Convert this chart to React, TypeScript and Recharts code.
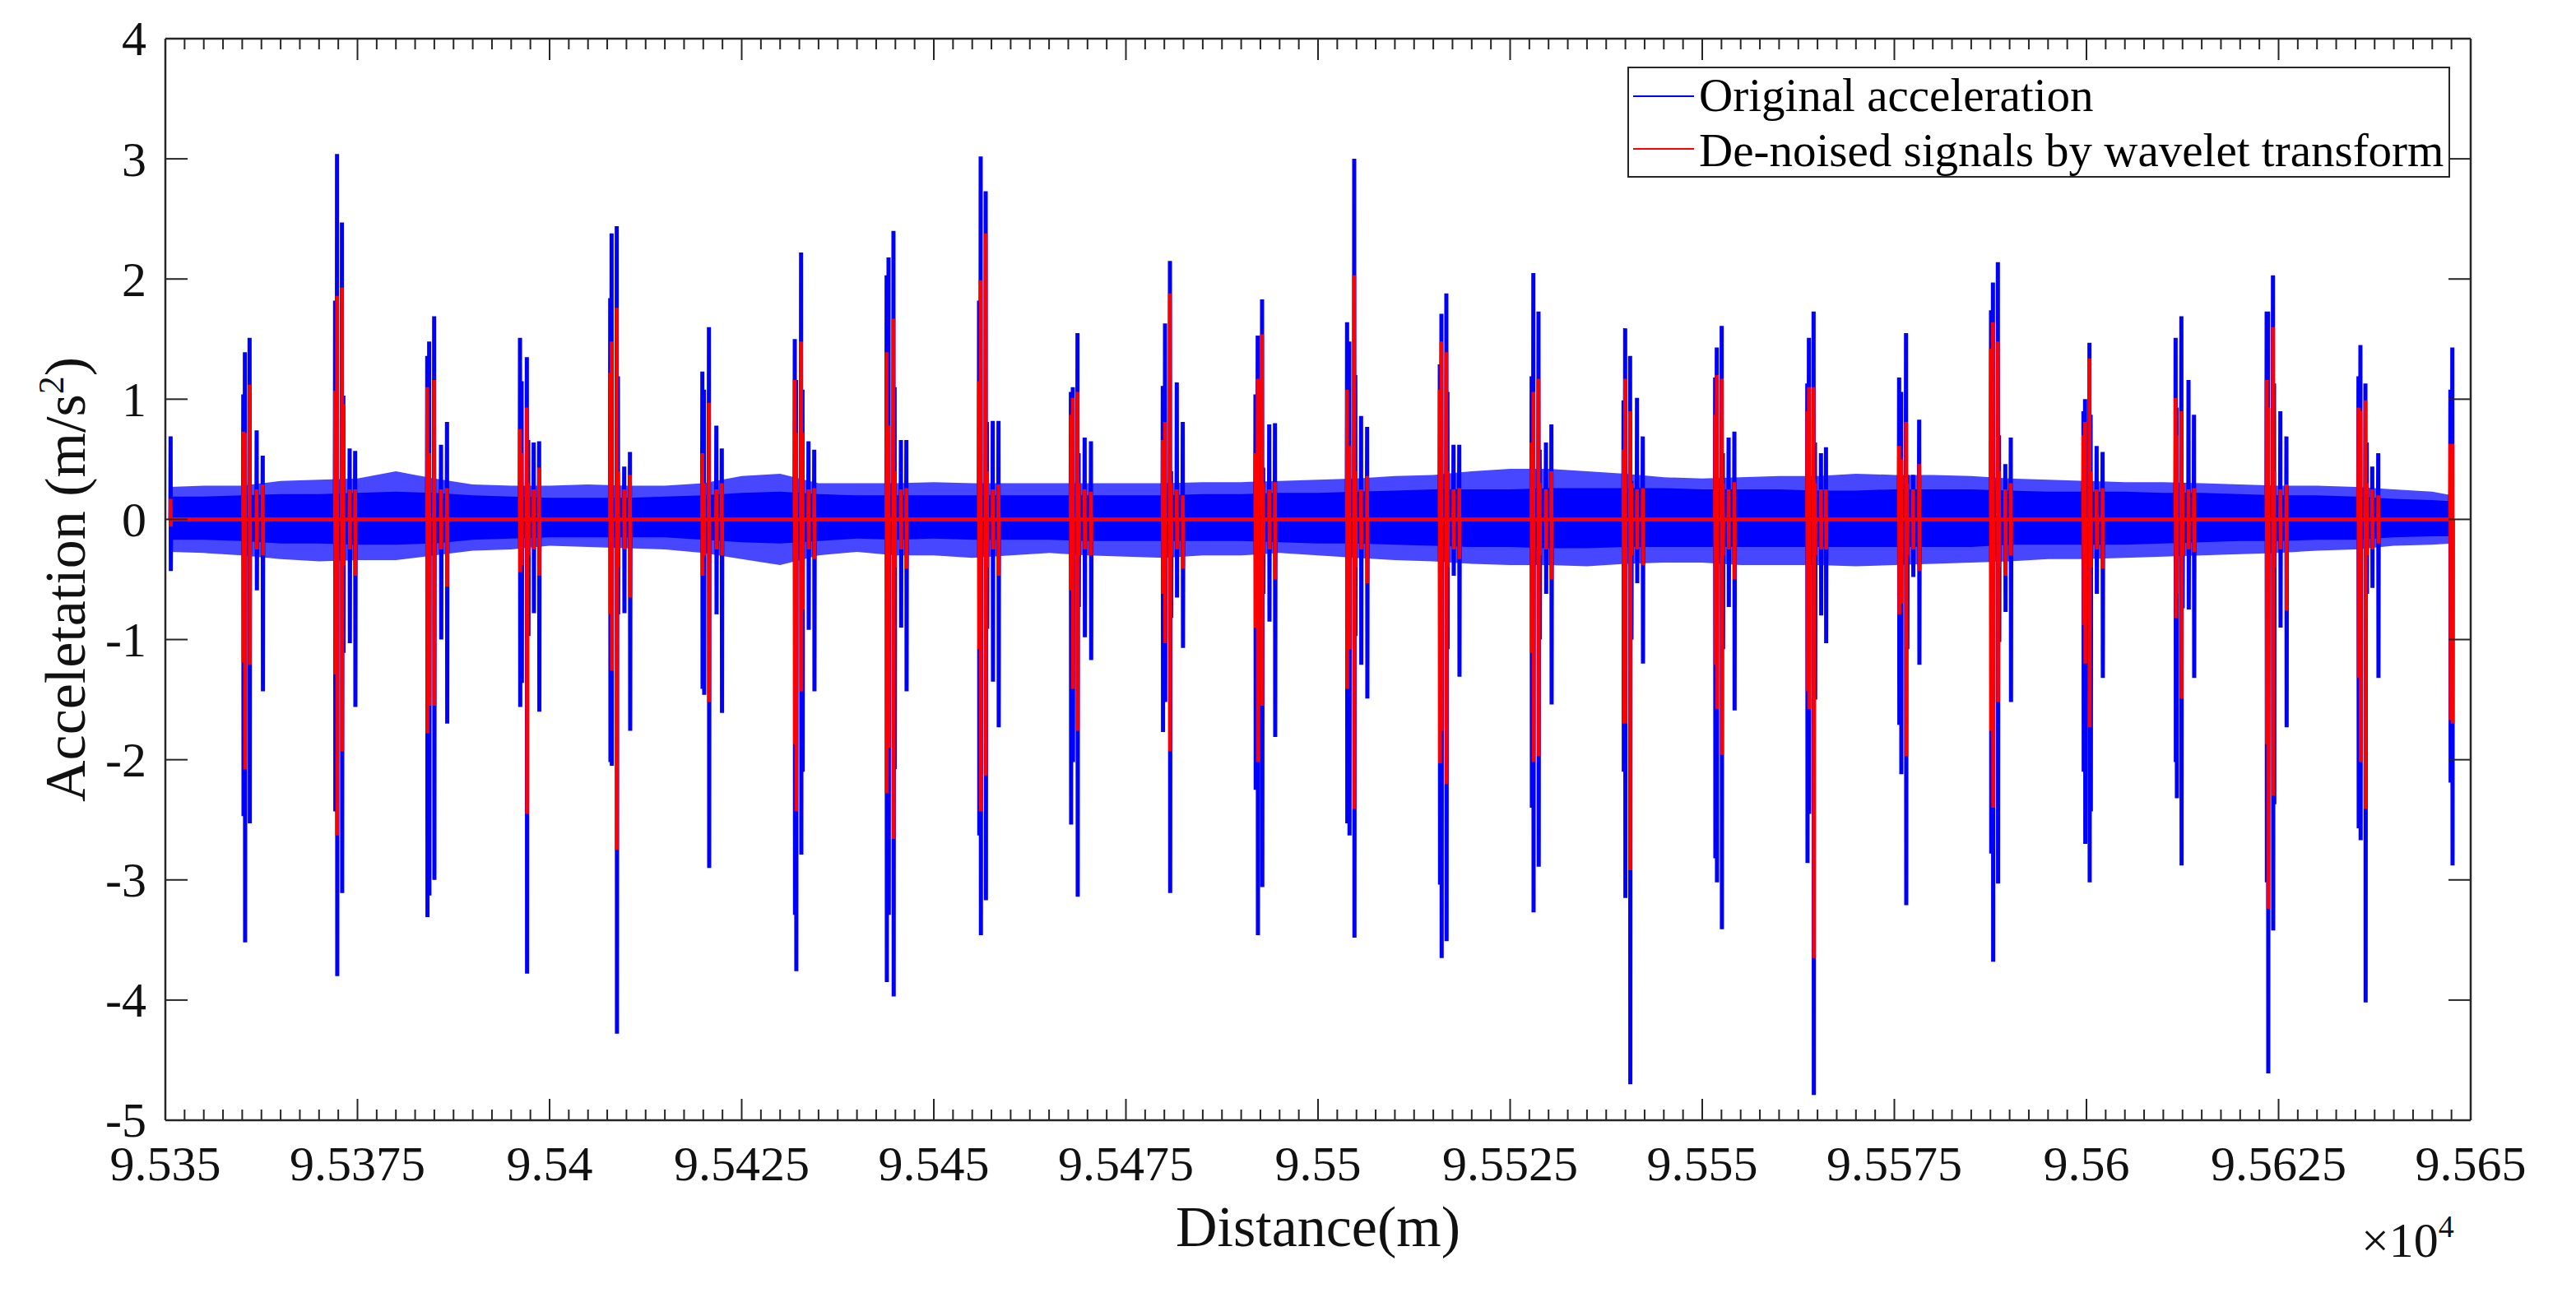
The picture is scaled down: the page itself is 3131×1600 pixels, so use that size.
import React from 'react';
import { ComposedChart, Line, Area, XAxis, YAxis, ReferenceLine, Legend } from 'recharts';

// ---------- data ----------
// x tick values (m) and their labels (×10^4)
const xMajorTicks = [95350, 95375, 95400, 95425, 95450, 95475, 95500, 95525, 95550, 95575, 95600, 95625, 95650];
const xTickLabels = ['9.535', '9.5375', '9.54', '9.5425', '9.545', '9.5475', '9.55', '9.5525', '9.555', '9.5575', '9.56', '9.5625', '9.565'];
const xMinorStep = 2.5;
const yTicks = [-5, -4, -3, -2, -1, 0, 1, 2, 3, 4];
const yTickLabels = ['-5', '-4', '-3', '-2', '-1', '0', '1', '2', '3', '4'];

// noise band of the original acceleration (envelope)
const bandX = [95350.6, 95355, 95360, 95365, 95370, 95375, 95380, 95385, 95390, 95395, 95400, 95405, 95410, 95415, 95420, 95425, 95430, 95435, 95440, 95445, 95450, 95455, 95460, 95465, 95470, 95475, 95480, 95485, 95490, 95495, 95500, 95505, 95510, 95515, 95520, 95525, 95530, 95535, 95540, 95545, 95550, 95555, 95560, 95565, 95570, 95575, 95580, 95585, 95590, 95595, 95600, 95605, 95610, 95615, 95620, 95625, 95630, 95635, 95640, 95645, 95647.6];
const coreHi = [0.19, 0.19, 0.2, 0.21, 0.21, 0.22, 0.23, 0.22, 0.2, 0.19, 0.18, 0.18, 0.18, 0.19, 0.2, 0.22, 0.23, 0.21, 0.2, 0.2, 0.2, 0.2, 0.2, 0.2, 0.2, 0.2, 0.2, 0.21, 0.21, 0.22, 0.22, 0.23, 0.24, 0.25, 0.25, 0.25, 0.26, 0.26, 0.26, 0.26, 0.25, 0.25, 0.25, 0.24, 0.24, 0.25, 0.25, 0.25, 0.24, 0.23, 0.23, 0.23, 0.22, 0.22, 0.21, 0.2, 0.2, 0.19, 0.17, 0.16, 0.15];
const coreLo = [-0.17, -0.17, -0.18, -0.2, -0.2, -0.21, -0.21, -0.2, -0.17, -0.16, -0.15, -0.15, -0.15, -0.15, -0.17, -0.19, -0.2, -0.18, -0.16, -0.17, -0.16, -0.17, -0.17, -0.17, -0.18, -0.18, -0.18, -0.18, -0.18, -0.19, -0.2, -0.2, -0.21, -0.22, -0.23, -0.23, -0.24, -0.24, -0.23, -0.23, -0.23, -0.23, -0.23, -0.23, -0.23, -0.23, -0.23, -0.23, -0.21, -0.21, -0.21, -0.21, -0.2, -0.19, -0.18, -0.18, -0.17, -0.17, -0.15, -0.14, -0.14];
const fringeHi = [0.27, 0.28, 0.28, 0.32, 0.33, 0.34, 0.4, 0.34, 0.29, 0.28, 0.28, 0.29, 0.28, 0.28, 0.3, 0.36, 0.38, 0.3, 0.3, 0.3, 0.31, 0.3, 0.3, 0.3, 0.3, 0.3, 0.3, 0.31, 0.31, 0.32, 0.33, 0.34, 0.36, 0.37, 0.4, 0.42, 0.42, 0.4, 0.38, 0.35, 0.34, 0.35, 0.36, 0.36, 0.38, 0.37, 0.37, 0.36, 0.34, 0.33, 0.32, 0.31, 0.31, 0.3, 0.29, 0.28, 0.28, 0.27, 0.25, 0.23, 0.2];
const fringeLo = [-0.27, -0.28, -0.3, -0.33, -0.35, -0.34, -0.34, -0.3, -0.26, -0.25, -0.22, -0.23, -0.24, -0.25, -0.28, -0.33, -0.38, -0.3, -0.27, -0.3, -0.3, -0.32, -0.3, -0.28, -0.3, -0.31, -0.32, -0.3, -0.3, -0.28, -0.3, -0.32, -0.34, -0.35, -0.37, -0.38, -0.38, -0.39, -0.37, -0.36, -0.36, -0.38, -0.38, -0.38, -0.39, -0.38, -0.37, -0.36, -0.35, -0.33, -0.33, -0.32, -0.31, -0.3, -0.29, -0.28, -0.26, -0.25, -0.22, -0.21, -0.2];

// impulses: position (m), original max/min, de-noised max/min (m/s^2)
const spikeX = [
  95350.68,
  95360.14, 95360.35, 95360.96, 95361.88, 95362.67,
  95372.09, 95372.34, 95372.98, 95373.16, 95373.98, 95374.70,
  95384.08, 95384.33, 95384.98, 95385.87, 95386.65,
  95396.15, 95396.36, 95397.04, 95397.22, 95397.93, 95398.64,
  95407.89, 95408.07, 95408.74, 95408.89, 95409.71, 95410.46,
  95419.88, 95420.09, 95420.74, 95421.70, 95422.41,
  95431.91, 95432.08, 95432.73, 95432.91, 95433.69, 95434.44,
  95443.86, 95444.11, 95444.75, 95444.90, 95445.72, 95446.43,
  95455.89, 95456.10, 95456.75, 95456.92, 95457.67, 95458.42,
  95467.84, 95468.09, 95468.70, 95468.84, 95469.63, 95470.45,
  95479.80, 95480.09, 95480.73, 95480.87, 95481.62, 95482.40,
  95491.86, 95492.15, 95492.72, 95492.86, 95493.65, 95494.40,
  95503.78, 95504.07, 95504.71, 95504.85, 95505.60, 95506.39,
  95515.85, 95516.06, 95516.70, 95516.84, 95517.63, 95518.38,
  95527.80, 95528.02, 95528.69, 95528.84, 95529.66, 95530.37,
  95539.76, 95539.97, 95540.61, 95540.76, 95541.51, 95542.26,
  95551.68, 95551.89, 95552.53, 95552.68, 95553.43, 95554.18,
  95563.67, 95563.88, 95564.49, 95564.67, 95565.45, 95566.10,
  95575.62, 95575.88, 95576.52, 95576.66, 95577.44, 95578.23,
  95587.58, 95587.83, 95588.47, 95588.62, 95589.44, 95590.15,
  95599.61, 95599.82, 95600.39, 95600.54, 95601.32, 95602.10,
  95611.60, 95611.74, 95612.35, 95612.49, 95613.28, 95613.99,
  95623.45, 95623.63, 95624.27, 95624.41, 95625.23, 95626.02,
  95635.40, 95635.65, 95636.30, 95636.47, 95637.19, 95637.97,
  95647.36, 95647.61,
];
const blueMax = [
  0.69,
  1.04, 1.39, 1.51, 0.74, 0.53,
  1.82, 3.04, 2.47, 1.03, 0.59, 0.57,
  1.36, 1.48, 1.69, 0.62, 0.81,
  1.51, 1.15, 1.35, 0.66, 0.64, 0.65,
  1.84, 2.38, 2.44, 1.19, 0.44, 0.56,
  1.23, 1.08, 1.6, 0.78, 0.59,
  1.5, 1.16, 2.22, 1.08, 0.65, 0.58,
  2.03, 2.18, 2.4, 1.1, 0.66, 0.66,
  1.82, 3.02, 2.73, 0.81, 0.82, 0.82,
  1.06, 1.1, 1.55, 0.55, 0.68, 0.65,
  1.11, 1.63, 2.15, 0.4, 1.14, 0.81,
  1.04, 1.53, 1.83, 0.43, 0.79, 0.8,
  1.64, 1.48, 3.0, 1.2, 0.86, 0.77,
  1.29, 1.71, 1.88, 1.06, 0.62, 0.62,
  1.19, 2.05, 1.73, 0.58, 0.64, 0.79,
  0.99, 1.59, 1.36, 0.32, 1.01, 0.69,
  1.18, 1.43, 1.61, 0.55, 0.68, 0.73,
  1.13, 1.51, 1.73, 0.64, 0.55, 0.6,
  1.18, 1.06, 1.55, 0.37, 0.37, 0.83,
  1.74, 1.97, 2.14, 0.7, 0.46, 0.68,
  0.9, 1.0, 1.47, 0.87, 0.61, 0.56,
  1.51, 0.93, 1.69, 0.3, 1.16, 0.87,
  1.73, 1.73, 2.03, 1.13, 0.9, 0.69,
  1.19, 1.45, 1.13, 0.64, 0.44, 0.55,
  1.08, 1.43,
];
const blueMin = [
  -0.43,
  -2.47, -3.52, -2.53, -0.59, -1.43,
  -2.43, -3.8, -3.11, -1.11, -1.03, -1.56,
  -3.31, -3.13, -3.0, -1.0, -1.7,
  -1.56, -1.36, -3.78, -0.97, -0.78, -1.6,
  -2.02, -2.05, -4.28, -0.79, -0.78, -1.76,
  -1.41, -1.46, -2.9, -0.79, -1.61,
  -3.29, -3.76, -2.79, -2.1, -0.92, -1.43,
  -3.85, -3.29, -3.97, -2.08, -0.9, -1.43,
  -2.63, -3.46, -3.17, -0.91, -1.35, -1.73,
  -2.54, -2.02, -3.14, -0.73, -0.98, -1.17,
  -1.77, -1.52, -3.11, -0.82, -0.65, -1.07,
  -2.25, -3.46, -3.06, -0.62, -0.85, -1.81,
  -2.53, -2.63, -3.48, -0.97, -1.21, -1.49,
  -3.04, -3.65, -3.51, -1.08, -0.47, -1.31,
  -2.4, -3.27, -2.89, -1.0, -0.62, -1.54,
  -2.1, -3.15, -4.7, -1.0, -0.53, -1.2,
  -2.82, -3.02, -3.41, -1.08, -0.73, -1.59,
  -2.86, -2.45, -4.79, -1.5, -0.8, -1.03,
  -1.71, -2.12, -3.21, -1.08, -0.48, -1.21,
  -2.78, -3.68, -3.03, -1.02, -0.77, -1.52,
  -2.1, -2.7, -3.02, -2.43, -0.62, -1.32,
  -2.02, -2.32, -2.88, -0.74, -0.75, -1.32,
  -3.02, -4.61, -3.42, -2.37, -0.9, -1.73,
  -2.57, -2.67, -4.02, -0.62, -0.57, -1.32,
  -2.19, -2.88,
];
const redMax = [
  0.17,
  0.73, 0.72, 1.12, 0.25, 0.29,
  1.07, 1.86, 1.93, 0.96, 0.25, 0.25,
  1.1, 0.55, 1.16, 0.25, 0.26,
  0.75, 0.55, 0.93, 0.3, 0.25, 0.43,
  1.22, 1.48, 1.76, 0.4, 0.25, 0.37,
  0.55, 0.3, 0.97, 0.25, 0.3,
  1.16, 0.72, 1.48, 0.72, 0.25, 0.26,
  1.39, 0.78, 1.67, 0.4, 0.25, 0.26,
  1.15, 1.99, 2.38, 0.4, 0.25, 0.29,
  0.87, 1.01, 1.06, 0.3, 0.25, 0.23,
  0.66, 0.81, 1.88, 0.3, 0.25, 0.2,
  0.55, 1.17, 1.54, 0.3, 0.25, 0.31,
  1.08, 0.61, 2.03, 0.4, 0.25, 0.36,
  1.08, 1.48, 1.39, 0.4, 0.25, 0.26,
  0.64, 1.06, 1.17, 0.3, 0.25, 0.4,
  0.58, 1.17, 0.9, 0.3, 0.25, 0.26,
  0.87, 1.2, 1.17, 0.3, 0.25, 0.31,
  0.9, 1.1, 1.1, 0.3, 0.25, 0.25,
  0.61, 0.5, 0.81, 0.3, 0.25, 0.46,
  1.42, 1.64, 1.48, 0.4, 0.25, 0.3,
  0.7, 0.81, 1.34, 0.4, 0.25, 0.26,
  1.01, 0.7, 0.9, 0.3, 0.25, 0.26,
  1.16, 0.93, 1.6, 0.4, 0.25, 0.29,
  0.93, 0.9, 0.99, 0.3, 0.25, 0.2,
  0.63, 0.63,
];
const redMin = [
  -0.06,
  -1.19, -2.08, -1.21, -0.25, -0.3,
  -1.29, -2.63, -1.93, -0.38, -0.25, -0.47,
  -1.78, -1.55, -1.55, -0.25, -0.56,
  -0.44, -0.38, -2.45, -0.3, -0.25, -0.47,
  -0.79, -1.26, -2.75, -0.4, -0.25, -0.65,
  -0.47, -0.3, -1.52, -0.25, -0.3,
  -1.87, -2.43, -1.43, -0.75, -0.25, -0.33,
  -2.28, -1.9, -2.66, -0.4, -0.25, -0.41,
  -1.08, -2.43, -2.13, -0.4, -0.25, -0.47,
  -0.59, -1.41, -1.76, -0.3, -0.25, -0.3,
  -0.62, -1.03, -1.93, -0.3, -0.25, -0.41,
  -0.9, -2.02, -1.55, -0.3, -0.25, -0.5,
  -1.41, -1.08, -2.41, -0.4, -0.25, -0.53,
  -2.03, -1.76, -2.2, -0.4, -0.25, -0.33,
  -1.11, -2.02, -1.97, -0.3, -0.25, -0.5,
  -1.7, -1.7, -2.92, -0.3, -0.25, -0.38,
  -1.21, -1.58, -1.96, -0.3, -0.25, -0.5,
  -1.43, -1.58, -3.65, -0.3, -0.25, -0.25,
  -0.79, -0.7, -1.97, -0.3, -0.25, -0.43,
  -1.76, -2.4, -1.52, -0.4, -0.47, -0.3,
  -0.88, -1.2, -1.73, -0.4, -0.25, -0.41,
  -0.82, -0.62, -1.49, -0.3, -0.25, -0.27,
  -1.87, -3.24, -2.3, -0.4, -0.25, -0.76,
  -1.32, -2.02, -2.41, -0.3, -0.25, -0.2,
  -1.67, -1.7,
];

// ---------- layout ----------
const W = 3115;
const H = 1584;
const PL = 193;
const PR = 2995;
const PT = 39;
const PB = 1354;
const FONT = '"Liberation Serif", "Times New Roman", Times, serif';
const INK = '#262626';
const BLUE = '#0000ff';
const RED = '#ff0000';

const xAllTicks: number[] = [];
for (let v = xMajorTicks[0]; v <= xMajorTicks[xMajorTicks.length - 1] + 1e-9; v += xMinorStep) xAllTicks.push(v);

const bandData = bandX.map((x, i) => ({ x, cHi: coreHi[i], cLo: coreLo[i], fHi: fringeHi[i], fLo: fringeLo[i] }));
const EPS = 0.03;
const blueSpikes = spikeX.flatMap((x, i) => [
  { x: x - EPS, y: 0 },
  { x, y: blueMax[i] },
  { x: x + EPS, y: blueMin[i] },
  { x: x + 2 * EPS, y: 0 },
]);
const redSpikes = spikeX.flatMap((x, i) => [
  { x: x - EPS, y: 0 },
  { x, y: redMax[i] },
  { x: x + EPS, y: redMin[i] },
  { x: x + 2 * EPS, y: 0 },
]);
const redBase = [
  { x: bandX[0], y: 0 },
  { x: bandX[bandX.length - 1], y: 0 },
];

const XTick = (props: any) => {
  const { x, payload } = props;
  const v = payload.value;
  const idx = xMajorTicks.indexOf(v);
  const len = idx >= 0 ? 26 : 13;
  return (
    <g>
      <line x1={x} x2={x} y1={PB} y2={PB - len} stroke={INK} strokeWidth={2} />
      <line x1={x} x2={x} y1={PT} y2={PT + len} stroke={INK} strokeWidth={2} />
      {idx >= 0 && (
        <text x={x} y={1427} textAnchor="middle" fontSize={60} fontFamily={FONT} fill="#111">
          {xTickLabels[idx]}
        </text>
      )}
    </g>
  );
};

const YTick = (props: any) => {
  const { y, payload } = props;
  const idx = yTicks.indexOf(payload.value);
  return (
    <g>
      <line x1={PL} x2={PL + 27} y1={y} y2={y} stroke={INK} strokeWidth={2} />
      <line x1={PR} x2={PR - 27} y1={y} y2={y} stroke={INK} strokeWidth={2} />
      <text x={170} y={y} dy="0.34em" textAnchor="end" fontSize={60} fontFamily={FONT} fill="#111">
        {yTickLabels[idx]}
      </text>
    </g>
  );
};

const XTitle = () => (
  <g>
    <text x={(PL + PR) / 2} y={1507} textAnchor="middle" fontSize={70} fontFamily={FONT} fill="#111">
      Distance(m)
    </text>
    <text x={2862} y={1520} fontSize={60} fontFamily={FONT} fill="#111">
      ×10
      <tspan baselineShift="62%" fontSize={38}>4</tspan>
    </text>
  </g>
);

const YTitle = () => (
  <text
    transform={`translate(95, ${(PT + PB) / 2}) rotate(-90)`}
    textAnchor="middle"
    fontSize={70}
    fontFamily={FONT}
    fill="#111"
  >
    Acceletation (m/s<tspan baselineShift="58%" fontSize={44}>2</tspan>)
  </text>
);

const LegendBox = () => (
  <svg width={1000} height={135} style={{ display: 'block' }}>
    <rect x={1} y={1} width={998} height={133} fill="#ffffff" stroke={INK} strokeWidth={2} />
    <line x1={7} x2={81} y1={36} y2={36} stroke={BLUE} strokeWidth={2} />
    <text x={87} y={54} fontSize={57} fontFamily={FONT} fill="#000">
      Original acceleration
    </text>
    <line x1={7} x2={81} y1={100} y2={100} stroke={RED} strokeWidth={2} />
    <text x={87} y={121} fontSize={57} fontFamily={FONT} fill="#000">
      De-noised signals by wavelet transform
    </text>
  </svg>
);

export default function App() {
  return (
    <div style={{ width: W, height: H, background: '#fff' }}>
      <ComposedChart
        width={W}
        height={H}
        margin={{ top: PT, right: W - PR, bottom: H - PB - 100, left: PL - 120 }}
      >
        <XAxis
          dataKey="x"
          type="number"
          domain={[xMajorTicks[0], xMajorTicks[xMajorTicks.length - 1]]}
          allowDataOverflow
          ticks={xAllTicks}
          interval={0}
          tick={(p: any) => <XTick {...p} />}
          tickLine={false}
          axisLine={false}
          height={100}
          label={() => <XTitle />}
        />
        <YAxis
          type="number"
          domain={[-5, 4]}
          allowDataOverflow
          ticks={yTicks}
          interval={0}
          tick={(p: any) => <YTick {...p} />}
          tickLine={false}
          axisLine={false}
          width={120}
          label={() => <YTitle />}
        />
        <Area
          data={bandData}
          dataKey={(d: any) => [d.fLo, d.fHi]}
          type="linear"
          stroke="none"
          fill={BLUE}
          fillOpacity={0.72}
          isAnimationActive={false}
          name="fringe"
          legendType="none"
        />
        <Area
          data={bandData}
          dataKey={(d: any) => [d.cLo, d.cHi]}
          type="linear"
          stroke="none"
          fill={BLUE}
          fillOpacity={1}
          isAnimationActive={false}
          name="core"
          legendType="none"
        />
        <Line
          data={blueSpikes}
          dataKey="y"
          type="linear"
          stroke={BLUE}
          strokeWidth={5}
          dot={false}
          activeDot={false}
          isAnimationActive={false}
          name="Original acceleration"
        />
        <Line
          data={redBase}
          dataKey="y"
          type="linear"
          stroke={RED}
          strokeWidth={4}
          dot={false}
          activeDot={false}
          isAnimationActive={false}
          legendType="none"
        />
        <Line
          data={redSpikes}
          dataKey="y"
          type="linear"
          stroke={RED}
          strokeWidth={4.5}
          dot={false}
          activeDot={false}
          isAnimationActive={false}
          name="De-noised signals by wavelet transform"
        />
        <ReferenceLine x={xMajorTicks[0]} stroke={INK} strokeWidth={2.5} />
        <ReferenceLine x={xMajorTicks[xMajorTicks.length - 1]} stroke={INK} strokeWidth={2.5} />
        <ReferenceLine y={4} stroke={INK} strokeWidth={2.5} />
        <ReferenceLine y={-5} stroke={INK} strokeWidth={2.5} />
        <Legend
          layout="horizontal"
          verticalAlign="middle"
          align="center"
          wrapperStyle={{ position: 'absolute', left: 1970, top: 73, width: 1000, height: 135 }}
          content={() => <LegendBox />}
        />
      </ComposedChart>
    </div>
  );
}
